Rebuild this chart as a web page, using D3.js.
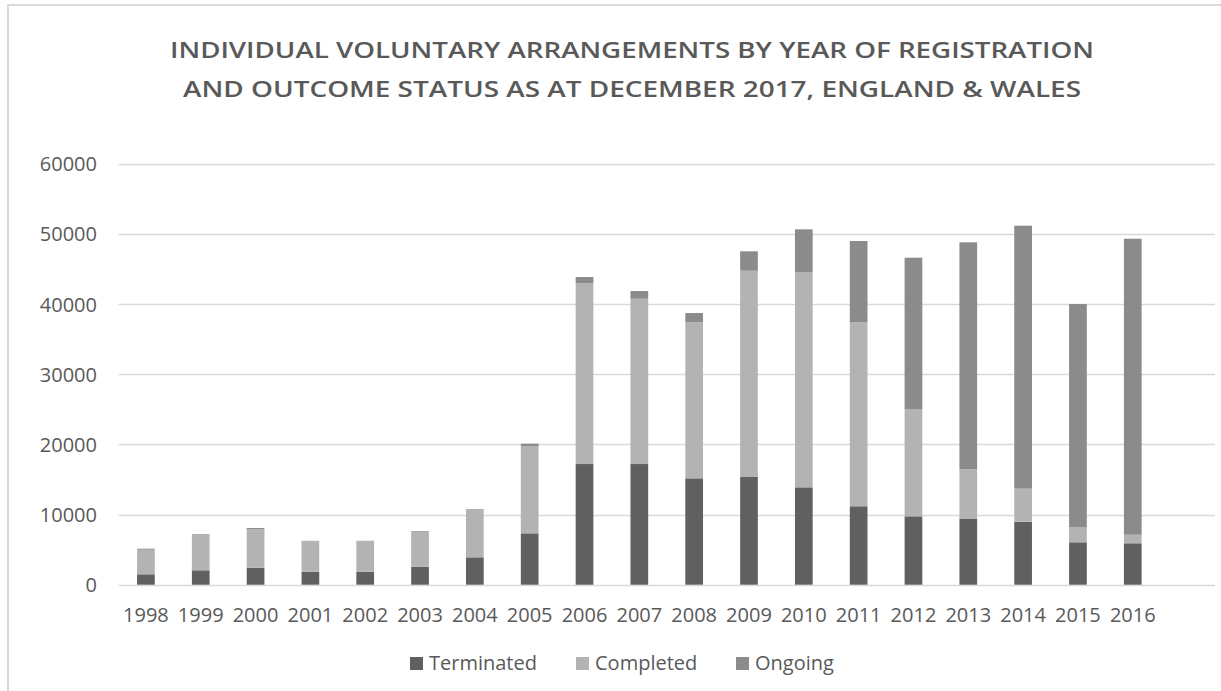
<!DOCTYPE html>
<html>
<head>
<meta charset="utf-8">
<script src="https://cdn.jsdelivr.net/npm/d3@7"></script>
<style>
  html, body { margin: 0; padding: 0; background: #ffffff; }
  svg { display: block; font-family: "Open Sans", "Noto Sans", sans-serif; }
</style>
</head>
<body>
<svg id="chart" width="1221" height="691"></svg>
<script>
// Registration years
const years = ["1998","1999","2000","2001","2002","2003","2004","2005","2006","2007",
               "2008","2009","2010","2011","2012","2013","2014","2015","2016"];

// Outcome status counts per registration year
const terminated = [1480, 2050, 2420, 1850, 1850, 2560, 3900, 7320, 17190, 17190,
                    15150, 15340, 13870, 11170, 9740, 9360, 8970, 6040, 5900];
const completed  = [3510, 4990, 5470, 4350, 4350, 4990, 6700, 12440, 25740, 23550,
                    22250, 29390, 30670, 26230, 15290, 7080, 4710, 2180, 1220];
const ongoing    = [140, 140, 190, 50, 50, 100, 140, 325, 900, 1090,
                    1300, 2760, 6080, 11560, 21550, 32330, 37460, 31760, 42170];

const seriesNames = ["Terminated", "Completed", "Ongoing"];
const seriesColors = ["#606060", "#b3b3b3", "#8b8b8b"];
const yTicks = [0, 10000, 20000, 30000, 40000, 50000, 60000];
const titleLines = [
  "INDIVIDUAL VOLUNTARY ARRANGEMENTS BY YEAR OF REGISTRATION",
  "AND OUTCOME STATUS AS AT DECEMBER 2017, ENGLAND & WALES"
];

const svg = d3.select("#chart");
const textColor = "#595959";
const gridColor = "#d9d9d9";

// Chart frame (left and top edges)
svg.append("line").attr("x1", 8).attr("x2", 8).attr("y1", 4).attr("y2", 691)
  .attr("stroke", gridColor).attr("stroke-width", 2);
svg.append("line").attr("x1", 7).attr("x2", 1221).attr("y1", 5).attr("y2", 5)
  .attr("stroke", gridColor).attr("stroke-width", 2);

// Plot area
const plotLeft = 118.5, plotRight = 1215;
const step = (plotRight - plotLeft) / (years.length + 1);
const x = d3.scaleBand()
  .domain(years)
  .range([plotLeft, plotLeft + step * years.length])
  .paddingInner(0.677)
  .paddingOuter(0.3385);

const y = d3.scaleLinear().domain([0, 60000]).range([584.7, 163.5]);

// Gridlines
svg.append("g").selectAll("line").data(yTicks).join("line")
  .attr("x1", plotLeft).attr("x2", plotRight)
  .attr("y1", d => Math.round(y(d)) + 0.5).attr("y2", d => Math.round(y(d)) + 0.5)
  .attr("stroke", gridColor).attr("stroke-width", 1.3);

// Y axis labels
const yAxis = d3.axisLeft(y).tickValues(yTicks).tickSize(0).tickPadding(0)
  .tickFormat(d3.format("d"));
const yg = svg.append("g").attr("transform", "translate(97,0)").call(yAxis);
yg.select(".domain").remove();
yg.selectAll("text").attr("fill", textColor).attr("font-size", 20)
  .attr("font-family", "'Open Sans', sans-serif").attr("dy", "0.36em");

// Stacked data
const rows = years.map((yr, i) => ({
  year: yr, Terminated: terminated[i], Completed: completed[i], Ongoing: ongoing[i]
}));
const stacked = d3.stack().keys(seriesNames)(rows);

svg.append("g").selectAll("g").data(stacked).join("g")
  .attr("fill", (d, i) => seriesColors[i])
  .selectAll("rect").data(d => d).join("rect")
  .attr("x", d => x(d.data.year))
  .attr("width", x.bandwidth())
  .attr("y", d => y(d[1]))
  .attr("height", d => y(d[0]) - y(d[1]));

// X axis labels
const xAxis = d3.axisBottom(x).tickSize(0).tickPadding(0);
const xg = svg.append("g").attr("transform", "translate(0,622)").call(xAxis);
xg.select(".domain").remove();
xg.selectAll("text").attr("fill", textColor).attr("font-size", 20)
  .attr("font-family", "'Open Sans', sans-serif").attr("dy", 0);

// Title
const titleWidths = [924, 898];
const titleBaselines = [58, 97];
svg.append("g").selectAll("text").data(titleLines).join("text")
  .attr("x", 632).attr("y", (d, i) => titleBaselines[i])
  .attr("text-anchor", "middle")
  .attr("fill", textColor)
  .attr("font-size", 22)
  .attr("font-weight", 600)
  .attr("textLength", (d, i) => titleWidths[i])
  .attr("lengthAdjust", "spacingAndGlyphs")
  .text(d => d);

// Legend
const legendX = [410, 576, 736];
const legend = svg.append("g").selectAll("g").data(seriesNames).join("g")
  .attr("transform", (d, i) => `translate(${legendX[i]},0)`);
legend.append("rect").attr("x", 0).attr("y", 657).attr("width", 13).attr("height", 13)
  .attr("fill", (d, i) => seriesColors[i]);
legend.append("text").attr("x", 19).attr("y", 670)
  .attr("fill", textColor).attr("font-size", 20)
  .text(d => d);
</script>
</body>
</html>
